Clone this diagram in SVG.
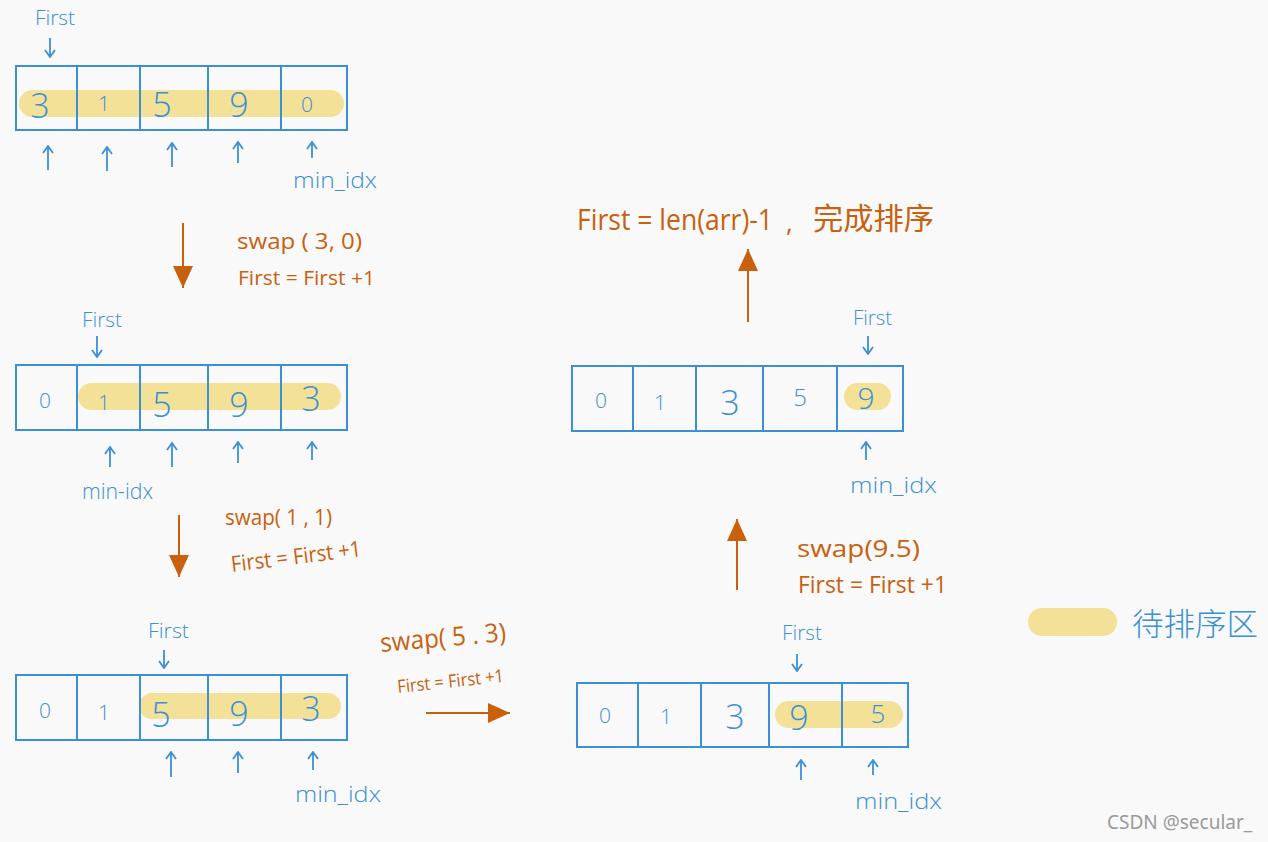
<svg xmlns="http://www.w3.org/2000/svg" width="1268" height="842" viewBox="0 0 1268 842">
<defs>
<style>
.bg{fill:#f9f9f9}
.hl{fill:#f3e197}
.box{fill:none;stroke:#3a8fd6;stroke-width:2}
.num{font-family:"Open Sans","Liberation Sans",sans-serif;font-weight:300;fill:#3a8fd6;text-anchor:middle}
.big{font-size:34px}
.sm{font-size:21px}
.bl{font-family:"Open Sans","Liberation Sans",sans-serif;font-weight:300;fill:#3a8fd6}
.or{font-family:"Open Sans","Liberation Sans","Noto Sans CJK SC",sans-serif;font-weight:400;fill:#c8600e}
.ptr{fill:none;stroke:#3a8fd6;stroke-width:1.8;marker-end:url(#chev)}
.arr{fill:none;stroke:#c8600e;stroke-width:2;marker-end:url(#tri)}
.wm{font-family:"Noto Sans","Open Sans",sans-serif;font-size:19px;fill:#9a9a9a}
</style>
<marker id="chev" viewBox="0 0 10 12" refX="9" refY="6" markerWidth="10" markerHeight="12" markerUnits="userSpaceOnUse" orient="auto">
<path d="M2,1 L9,6 L2,11" fill="none" stroke="#3a8fd6" stroke-width="1.8"/>
</marker>
<marker id="tri" viewBox="0 0 22 20" refX="22" refY="10" markerWidth="22" markerHeight="20" markerUnits="userSpaceOnUse" orient="auto">
<path d="M0,0 L22,10 L0,20 Z" fill="#c8600e"/>
</marker>
</defs>
<rect class="bg" x="0" y="0" width="1268" height="842"/>

<g id="array1">
<rect class="hl" x="19" y="90" width="325" height="27" rx="13.5"/>
<rect class="box" x="16" y="66" width="331" height="64"/>
<path class="box" d="M77,66V130M140,66V130M208,66V130M281,66V130"/>
<text class="num big" x="40" y="118">3</text>
<text class="num sm" x="104" y="111">1</text>
<text class="num big" x="162" y="117">5</text>
<text class="num big" x="239" y="117">9</text>
<text class="num sm" x="307" y="112">0</text>
<text class="bl" x="35" y="25" font-size="20" textLength="40" lengthAdjust="spacingAndGlyphs">First</text>
<text class="bl" x="293" y="188" font-size="22" textLength="84" lengthAdjust="spacingAndGlyphs">min_idx</text>
</g>

<g id="array2">
<rect class="hl" x="78" y="383" width="263" height="27" rx="13.5"/>
<rect class="box" x="16" y="365" width="331" height="65"/>
<path class="box" d="M77,365V430M140,365V430M208,365V430M281,365V430"/>
<text class="num sm" x="45" y="408">0</text>
<text class="num sm" x="104" y="410">1</text>
<text class="num big" x="162" y="417">5</text>
<text class="num big" x="239" y="417">9</text>
<text class="num big" x="311" y="411">3</text>
<text class="bl" x="82" y="327" font-size="20" textLength="40" lengthAdjust="spacingAndGlyphs">First</text>
<text class="bl" x="82" y="499" font-size="22" textLength="71" lengthAdjust="spacingAndGlyphs">min-idx</text>
</g>

<g id="array3">
<rect class="hl" x="139" y="693" width="202" height="26" rx="13"/>
<rect class="box" x="16" y="675" width="331" height="65"/>
<path class="box" d="M77,675V740M140,675V740M208,675V740M281,675V740"/>
<text class="num sm" x="45" y="718">0</text>
<text class="num sm" x="104" y="720">1</text>
<text class="num big" x="161" y="727">5</text>
<text class="num big" x="239" y="726">9</text>
<text class="num big" x="311" y="721">3</text>
<text class="bl" x="148" y="638" font-size="20" textLength="41" lengthAdjust="spacingAndGlyphs">First</text>
<text class="bl" x="295" y="802" font-size="22" textLength="86" lengthAdjust="spacingAndGlyphs">min_idx</text>
</g>

<g id="array4">
<rect class="hl" x="775" y="701" width="128" height="27" rx="13.5"/>
<rect class="box" x="577" y="683" width="331" height="64"/>
<path class="box" d="M638,683V747M701,683V747M769,683V747M842,683V747"/>
<text class="num sm" x="605" y="723">0</text>
<text class="num sm" x="666" y="724">1</text>
<text class="num big" x="735" y="729">3</text>
<text class="num big" x="799" y="730">9</text>
<text class="num" x="878" y="723" font-size="26">5</text>
<text class="bl" x="782" y="640" font-size="20" textLength="40" lengthAdjust="spacingAndGlyphs">First</text>
<text class="bl" x="855" y="809" font-size="22" textLength="87" lengthAdjust="spacingAndGlyphs">min_idx</text>
</g>

<g id="array5">
<rect class="hl" x="844" y="383" width="47" height="27" rx="13.5"/>
<rect class="box" x="572" y="366" width="331" height="65"/>
<path class="box" d="M633,366V431M696,366V431M763,366V431M837,366V431"/>
<text class="num sm" x="601" y="408">0</text>
<text class="num sm" x="660" y="410">1</text>
<text class="num big" x="730" y="415">3</text>
<text class="num" x="800" y="406" font-size="24">5</text>
<text class="num" x="866" y="409" font-size="30">9</text>
<text class="bl" x="853" y="325" font-size="20" textLength="39" lengthAdjust="spacingAndGlyphs">First</text>
<text class="bl" x="850" y="493" font-size="22" textLength="87" lengthAdjust="spacingAndGlyphs">min_idx</text>
</g>

<g id="labels">
<text class="or" x="237" y="249" font-size="22" textLength="125" lengthAdjust="spacingAndGlyphs">swap ( 3, 0)</text>
<text class="or" x="238" y="285" font-size="20" textLength="137" lengthAdjust="spacingAndGlyphs">First = First +1</text>
<text class="or" x="225" y="525" font-size="22" textLength="107" lengthAdjust="spacingAndGlyphs">swap( 1 , 1)</text>
<text class="or" x="232" y="572" font-size="22" textLength="131" lengthAdjust="spacingAndGlyphs" transform="rotate(-7 232 572)">First = First +1</text>
<text class="or" x="381" y="652" font-size="26" textLength="126" lengthAdjust="spacingAndGlyphs" transform="rotate(-5 381 652)">swap( 5 . 3)</text>
<text class="or" x="398" y="693" font-size="18" textLength="107" lengthAdjust="spacingAndGlyphs" transform="rotate(-6 398 693)">First = First +1</text>
<text class="or" x="797" y="557" font-size="24" textLength="123" lengthAdjust="spacingAndGlyphs">swap(9.5)</text>
<text class="or" x="798" y="593" font-size="24" textLength="149" lengthAdjust="spacingAndGlyphs">First = First +1</text>
<text class="or" x="0" y="0" font-size="24" textLength="196" lengthAdjust="spacingAndGlyphs" transform="translate(577,230) scale(1,1.25)">First = len(arr)-1</text>
<text class="or" x="786" y="232" font-size="26">,</text>
<text class="or" x="813" y="229" font-size="30" textLength="121" lengthAdjust="spacingAndGlyphs">完成排序</text>
</g>

<g id="legend">
<rect class="hl" x="1028" y="608" width="89" height="28" rx="14"/>
<text class="bl" x="1132" y="635" font-size="31" textLength="126" lengthAdjust="spacingAndGlyphs" style="font-family:'Noto Sans CJK SC',sans-serif">待排序区</text>
</g>

<g id="connectors">
<line class="ptr" x1="50" y1="38" x2="50" y2="57"/>
<line class="ptr" x1="97" y1="336" x2="97" y2="357"/>
<line class="ptr" x1="164" y1="650" x2="164" y2="668"/>
<line class="ptr" x1="797" y1="654" x2="797" y2="671"/>
<line class="ptr" x1="868" y1="336" x2="868" y2="354"/>

<line class="ptr" x1="48" y1="170" x2="48" y2="146"/>
<line class="ptr" x1="107" y1="171" x2="107" y2="147"/>
<line class="ptr" x1="172" y1="167" x2="172" y2="143"/>
<line class="ptr" x1="238" y1="163" x2="238" y2="142"/>
<line class="ptr" x1="312" y1="158" x2="312" y2="142"/>

<line class="ptr" x1="110" y1="467" x2="110" y2="447"/>
<line class="ptr" x1="172" y1="467" x2="172" y2="443"/>
<line class="ptr" x1="238" y1="463" x2="238" y2="442"/>
<line class="ptr" x1="312" y1="460" x2="312" y2="442"/>

<line class="ptr" x1="171" y1="777" x2="171" y2="752"/>
<line class="ptr" x1="238" y1="773" x2="238" y2="752"/>
<line class="ptr" x1="313" y1="770" x2="313" y2="752"/>

<line class="ptr" x1="801" y1="780" x2="801" y2="760"/>
<line class="ptr" x1="873" y1="775" x2="873" y2="760"/>

<line class="ptr" x1="866" y1="460" x2="866" y2="442"/>

<line class="arr" x1="183" y1="223" x2="183" y2="288"/>
<line class="arr" x1="179" y1="515" x2="179" y2="577"/>
<line class="arr" x1="426" y1="713" x2="510" y2="713"/>
<line class="arr" x1="737" y1="590" x2="737" y2="519"/>
<line class="arr" x1="748" y1="322" x2="748" y2="249"/>
</g>

<text class="wm" x="1107" y="829">CSDN @secular_</text>
</svg>
